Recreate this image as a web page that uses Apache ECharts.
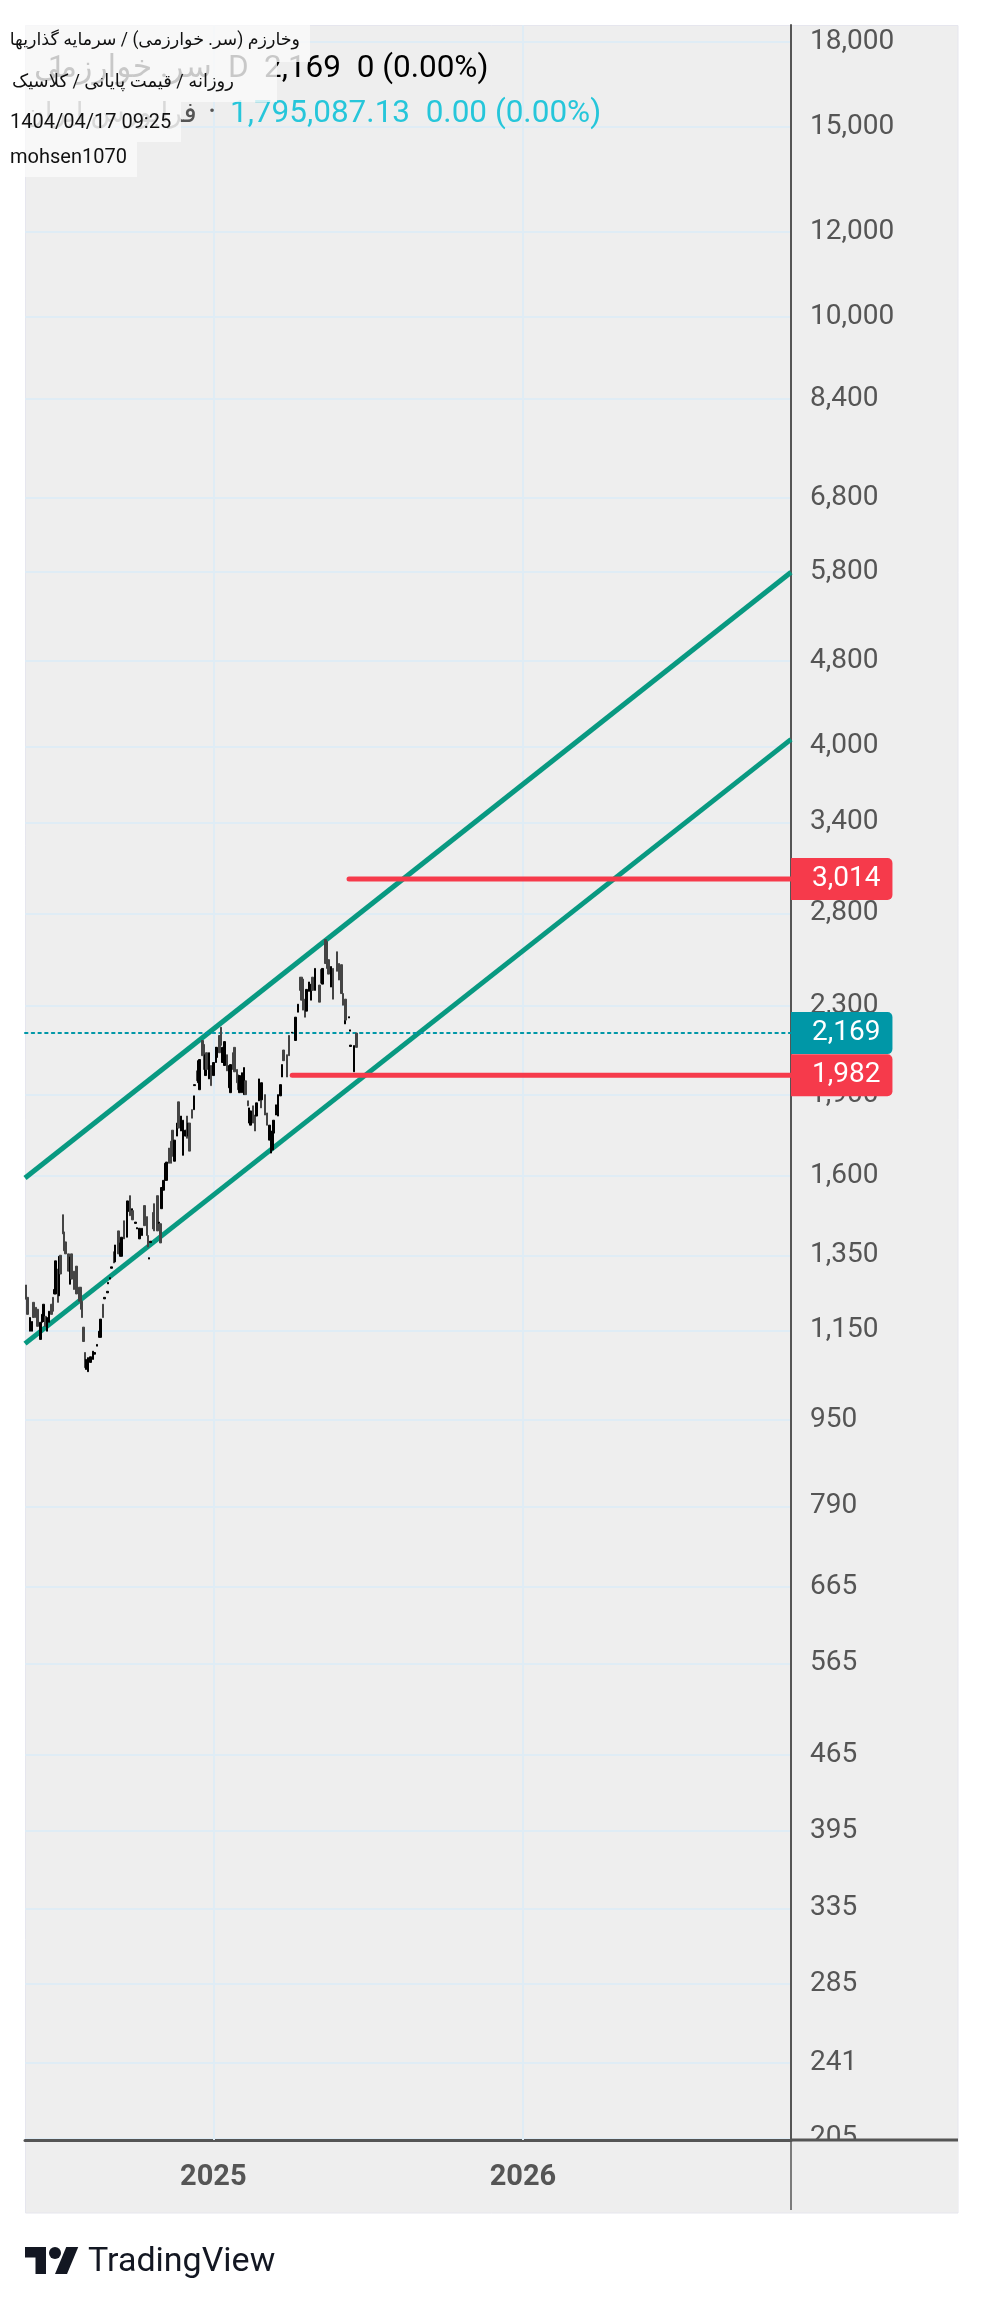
<!DOCTYPE html>
<html><head><meta charset="utf-8">
<style>html,body{margin:0;padding:0;background:#fff}#c{width:984px;height:2305px}</style>
<script src="https://cdn.jsdelivr.net/npm/echarts@6/dist/echarts.min.js"></script>
</head><body><div id="c"></div>
<script>
const priceTicks=[18000,15000,12000,10000,8400,6800,5800,4800,4000,3400,2800,2300,1900,1600,1350,1150,950,790,665,565,465,395,335,285,241,205];
const yearTicks=['2025','2026'];
const yearDays=[0,365];
const barDays=[-221,-219,-216,-214,-212,-209,-207,-204,-202,-200,-198,-196,-194,-191,-189,-187,-186,-183,-182,-180,-177,-176,-174,-171,-169,-167,-164,-162,-161,-158,-156,-155,-153,-151,-150,-148,-145,-142,-140,-137,-135,-133,-130,-128,-125,-124,-122,-120,-117,-116,-112,-110,-108,-105,-102,-101,-98,-96,-95,-92,-90,-87,-84,-81,-78,-77,-76,-74,-71,-70,-66,-64,-62,-61,-59,-57,-55,-52,-50,-48,-46,-43,-41,-38,-36,-33,-31,-30,-28,-25,-23,-22,-19,-18,-16,-13,-11,-9,-8,-5,-3,0,3,4,7,9,11,13,16,19,20,23,25,28,29,31,34,36,38,41,42,44,47,49,51,54,56,57,61,63,66,68,70,71,74,76,79,81,83,87,89,93,97,100,102,104,106,108,110,113,115,117,120,125,127,129,132,134,136,139,141,146,148,151,153,155,156,160,161,162,166,169];
const barOpen=[1267,1234,1148,1148,1221,1208,1203,1128,1170,1172,1185,1148,1170,1216,1234,1243,1243,1311,1238,1350,1472,1419,1389,1354,1269,1354,1305,1302,1319,1261,1261,1224,1158,1097,1058,1053,1074,1081,1093,1112,1133,1133,1216,1230,1246,1270,1283,1313,1360,1331,1422,1347,1347,1453,1403,1482,1533,1469,1485,1445,1428,1398,1408,1501,1466,1408,1339,1387,1479,1507,1533,1445,1444,1491,1551,1584,1584,1697,1722,1763,1650,1741,1873,1760,1671,1741,1817,1741,1790,1842,1842,1939,2001,1951,1922,2135,2117,1981,2080,1967,2024,1981,2037,2059,2158,2196,2037,2024,2071,1930,1910,2080,2104,2007,1984,1910,1910,1902,1959,1877,1790,1782,1857,1821,1817,1877,1943,1881,1902,1829,1726,1679,1690,1752,1821,1817,1897,1975,2092,2071,2158,2169,2135,2268,2444,2444,2434,2332,2273,2371,2327,2444,2376,2403,2485,2408,2648,2637,2537,2393,2490,2580,2516,2510,2360,2212,2332,2240,2178,2108,1997,2169];
const barClose=[1229,1190,1182,1172,1182,1182,1160,1170,1190,1216,1160,1182,1198,1190,1198,1255,1334,1221,1347,1297,1413,1363,1354,1305,1345,1283,1255,1255,1243,1224,1203,1182,1123,1062,1081,1085,1087,1100,1097,1116,1148,1178,1182,1234,1250,1274,1287,1317,1328,1380,1354,1386,1403,1398,1513,1516,1469,1491,1456,1449,1432,1430,1430,1438,1408,1374,1343,1391,1428,1422,1422,1449,1386,1560,1584,1643,1647,1643,1643,1668,1726,1790,1771,1817,1801,1763,1733,1790,1686,1809,1897,1943,1959,2045,2050,2067,2007,2071,2007,2080,1939,2037,2104,2104,2080,2113,2104,2130,2001,2024,2028,2007,1997,1951,1922,1981,1993,2015,1902,1857,1849,1837,1790,1760,1869,1967,1849,1951,1821,1782,1782,1726,1760,1801,1861,1902,1943,2028,2045,1975,2067,2173,2244,2307,2376,2327,2278,2244,2381,2419,2408,2376,2490,2317,2413,2490,2516,2490,2460,2500,2332,2475,2429,2360,2302,2283,2230,2246,2184,2114,2112,2104];
const channelDays=[-222,681];
const upperChannel=[1592,5800];
const lowerChannel=[1118,4060];
const lastPrice=2169;
const levelHigh=3014, levelHighStart=160;
const levelLow=1982, levelLowStart=93;
const axisDays=[-222,681];

const fmt=v=>Number(v).toLocaleString('en-US');
const FONT="Roboto, 'Noto Sans', 'DejaVu Sans', sans-serif";
const BLACK='#000000',GRAY='#444444',GREEN='#089981',RED='#f63a4b',TEAL='#0097a7',GRID='#dfecf5';
const BOX='rgba(250,250,250,0.8)';

const priceLabel=(bg)=>({show:true,position:'right',distance:0,formatter:p=>fmt(p.value[1]),
  color:'#fff',fontFamily:FONT,fontSize:28,lineHeight:28,backgroundColor:bg,
  borderRadius:[0,5,5,0],padding:[7,12,7,21],align:'left'});
const flat=(name,from,v,color,extra,bg)=>({type:'line',name,showSymbol:false,symbol:'none',silent:true,z:4,
  data:[[from,v],[axisDays[1],v]],
  lineStyle:Object.assign({color,width:5,cap:'round'},extra||{}),
  endLabel:priceLabel(bg)});
const chan=(name,vals)=>({type:'line',name,showSymbol:false,symbol:'none',silent:true,z:3,
  data:channelDays.map((d,i)=>[d,vals[i]]),lineStyle:{color:GREEN,width:5}});

const bars=barDays.map((d,i)=>[d,barOpen[i],barClose[i],Math.min(barOpen[i],barClose[i]),Math.max(barOpen[i],barClose[i])]);

const chart=echarts.init(document.getElementById('c'),null,{renderer:'canvas'});
chart.setOption({
  animation:false,backgroundColor:'#ffffff',textStyle:{fontFamily:FONT},
  grid:{left:25,top:25,width:766,height:2115,containLabel:false},
  xAxis:{type:'value',min:axisDays[0],max:axisDays[1],position:'bottom',
    axisLine:{show:true,lineStyle:{color:'#555555',width:3}},
    axisTick:{show:false,customValues:yearDays},
    splitLine:{show:false},
    axisLabel:{show:true,customValues:yearDays,margin:38,color:'#555555',fontSize:29,fontWeight:'bold',fontFamily:FONT,
      formatter:v=>yearTicks[yearDays.indexOf(v)]||'',hideOverlap:false,verticalAlign:'middle',lineHeight:29}},
  yAxis:{type:'log',logBase:10,min:204.3,max:18649,position:'right',
    axisLine:{show:true,onZero:false,lineStyle:{color:'#555555',width:2}},
    axisTick:{show:false,customValues:priceTicks},
    splitLine:{show:true,lineStyle:{color:GRID,width:2}},
    minorTick:{show:false},minorSplitLine:{show:false},
    axisLabel:{show:true,customValues:priceTicks,margin:19,color:'#555555',fontSize:28,fontFamily:FONT,formatter:v=>fmt(v),hideOverlap:false,showMinLabel:true,showMaxLabel:true}},
  series:[
    {type:'line',name:'yearLines',silent:true,z:1,data:[],symbol:'none',
      markLine:{silent:true,z:1,symbol:'none',animation:false,label:{show:false},lineStyle:{color:GRID,width:2,type:'solid'},data:yearDays.map(d=>({xAxis:d}))}},
    chan('upper',upperChannel),chan('lower',lowerChannel),
    {type:'candlestick',name:'price',z:5,silent:true,barWidth:2,data:bars,
      itemStyle:{color:BLACK,borderColor:BLACK,color0:GRAY,borderColor0:GRAY,borderWidth:1},
      emphasis:{disabled:true}},
    flat('last',axisDays[0],lastPrice,TEAL,{width:2,type:[2.5,4.2]},TEAL),
    flat('hi',levelHighStart,levelHigh,RED,null,RED),
    flat('lo',levelLowStart,levelLow,RED,null,RED)
  ],
  graphic:[
    {type:'rect',z:-5,silent:true,shape:{x:25.5,y:25.5,width:932.5,height:2187.5},style:{fill:'#eeeeee',stroke:'#e6e6ee',lineWidth:1}},
    {type:'rect',z:20,silent:true,shape:{x:793,y:2141,width:165,height:71},style:{fill:'#eeeeee'}},
    {type:'line',z:21,silent:true,shape:{x1:791,y1:2140,x2:958,y2:2140},style:{stroke:'#555555',lineWidth:3}},
    {type:'line',z:21,silent:true,shape:{x1:791,y1:2140,x2:791,y2:2210},style:{stroke:'#555555',lineWidth:1.5}},
    {type:'text',z:30,silent:true,style:{x:48,y:69,text:'1',fill:'#000000',font:"31.5px "+FONT,verticalAlign:'middle'}},
    {type:'text',z:30,silent:true,style:{x:212,y:69,text:'سر. خوارزمی',fill:'#000000',align:'right',font:"31.5px "+FONT,verticalAlign:'middle'}},
    {type:'text',z:30,silent:true,style:{x:228,y:69,text:'D',fill:'#000000',font:"31.5px "+FONT,verticalAlign:'middle'}},
    {type:'text',z:30,silent:true,style:{x:264,y:69,text:'2,169  0 (0.00%)',fill:'#000000',font:"31.5px "+FONT,verticalAlign:'middle'}},
    {type:'text',z:30,silent:true,style:{x:197,y:115,text:'فرابورس ایران',fill:'#555555',align:'right',font:"28px "+FONT,verticalAlign:'middle'}},
    {type:'text',z:30,silent:true,style:{x:208,y:114,text:'·',fill:'#555555',font:"31.5px "+FONT,verticalAlign:'middle'}},
    {type:'text',z:30,silent:true,style:{x:230,y:114,text:'1,795,087.13  0.00 (0.00%)',fill:'#26c6da',font:"31.5px "+FONT,verticalAlign:'middle'}},
    {type:'rect',z:31,silent:true,shape:{x:25,y:25,width:285,height:37},style:{fill:BOX}},
    {type:'rect',z:31,silent:true,shape:{x:25,y:62,width:252,height:40},style:{fill:BOX}},
    {type:'rect',z:31,silent:true,shape:{x:25,y:102,width:156,height:40},style:{fill:BOX}},
    {type:'rect',z:31,silent:true,shape:{x:25,y:142,width:112,height:35},style:{fill:BOX}},
    {type:'text',z:32,silent:true,style:{x:300,y:41,text:'وخارزم (سر. خوارزمی) / سرمایه گذاریها',fill:'#111',align:'right',font:"17.5px "+FONT,verticalAlign:'middle'}},
    {type:'text',z:32,silent:true,style:{x:234,y:82,text:'روزانه / قیمت پایانی / کلاسیک',fill:'#111',align:'right',font:"18px "+FONT,verticalAlign:'middle'}},
    {type:'text',z:32,silent:true,style:{x:10,y:123,text:'1404/04/17 09:25',fill:'#111',font:"20px "+FONT,verticalAlign:'middle'}},
    {type:'text',z:32,silent:true,style:{x:10,y:158,text:'mohsen1070',fill:'#111',font:"20px "+FONT,verticalAlign:'middle'}},
    {type:'polygon',z:32,silent:true,shape:{points:[[46,2274],[35.5,2274],[35.5,2257.5],[25,2257.5],[25,2247],[46,2247]]},style:{fill:'#131722'}},
    {type:'polygon',z:32,silent:true,shape:{points:[[67,2274],[55,2274],[66.25,2247],[78.25,2247]]},style:{fill:'#131722'}},
    {type:'circle',z:32,silent:true,shape:{cx:55,cy:2253,r:6},style:{fill:'#131722'}},
    {type:'text',z:32,silent:true,style:{x:88,y:2262,text:'TradingView',fill:'#131722',font:"34px "+FONT,verticalAlign:'middle'}}
  ]
});
</script></body></html>
